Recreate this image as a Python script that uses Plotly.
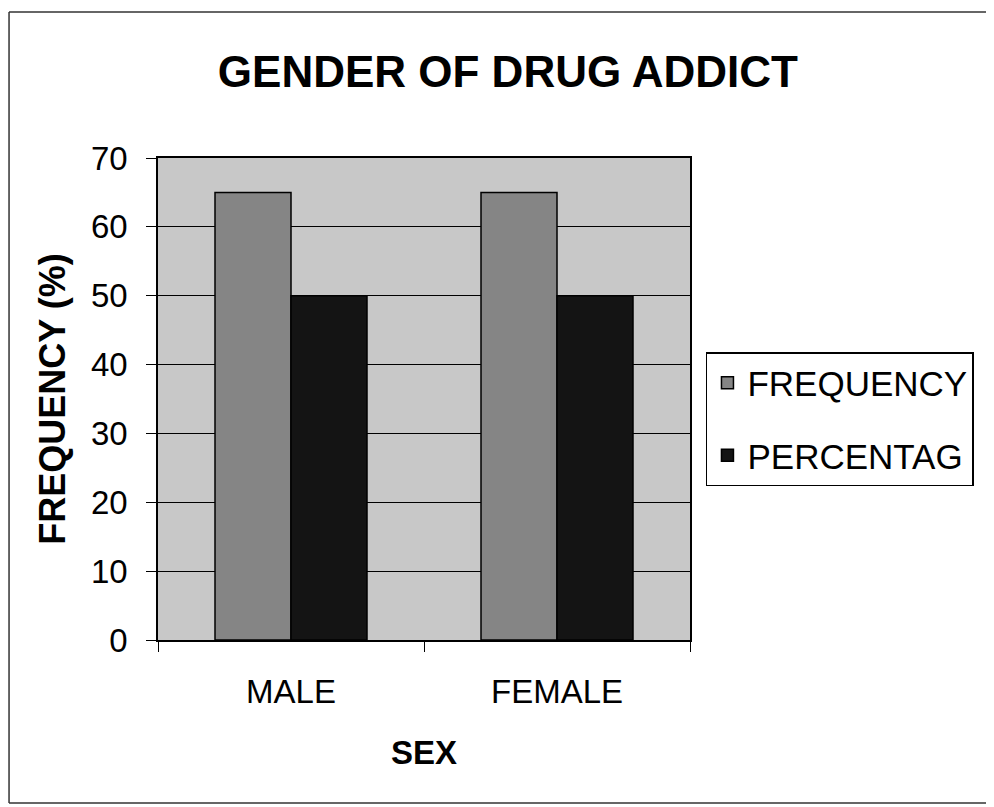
import plotly.graph_objects as go

# данные с графика
categories = ['MALE', 'FEMALE']
frequency = [65, 65]
percentage = [50, 50]
y_ticks = [0, 10, 20, 30, 40, 50, 60, 70]

fig = go.Figure()
fig.add_trace(go.Bar(x=categories, y=frequency, name='FREQUENCY', legendgroup='a',
                     marker_color='#858585', marker_line_color='black', marker_line_width=1.5))
fig.add_trace(go.Bar(x=categories, y=percentage, name='PERCENTAG', legendgroup='b',
                     marker_color='#141414', marker_line_color='black', marker_line_width=1.5))

# у страницы есть отступ 8px, поэтому фигура чуть меньше окна
fig.update_layout(
    width=986, height=799,
    margin=dict(l=150, r=304, t=150, b=167),
    paper_bgcolor='white',
    plot_bgcolor='#c8c8c8',
    font=dict(family='Liberation Sans, Arial', color='black', size=33),
    title=dict(text='<b>GENDER OF DRUG ADDICT</b>', x=0.507, xanchor='center',
               y=0.92, yanchor='middle', font=dict(size=44)),
    bargap=0.4286, bargroupgap=0,
    showlegend=True,
    legend=dict(x=1.03, y=0.5975, xanchor='left', yanchor='top',
                bordercolor='black', borderwidth=1.5, bgcolor='white',
                font=dict(size=35), traceorder='grouped', tracegroupgap=24),
)
fig.update_xaxes(
    title=dict(text='<b>SEX</b>', standoff=32, font=dict(size=33)),
    showline=True, linecolor='black', linewidth=1.5, mirror=True,
    ticks='outside', tickson='boundaries', ticklen=10, tickcolor='black',
    ticklabelstandoff=22,
)
fig.update_yaxes(
    title=dict(text='<b>FREQUENCY (%)</b>', standoff=14, font=dict(size=36)),
    range=[0, 70], tickvals=y_ticks,
    showgrid=True, gridcolor='black', gridwidth=1,
    showline=True, linecolor='black', linewidth=1.5, mirror=True,
    ticks='outside', ticklen=10, tickcolor='black',
    ticklabelstandoff=12,
    zeroline=False,
)
# рамка скана
for x0, y0, x1, y1 in [(-0.28, 1.303, 1.6, 1.303), (-0.28, -0.338, -0.28, 1.303),
                       (-0.28, -0.338, 1.6, -0.338)]:
    fig.add_shape(type='line', xref='paper', yref='paper', x0=x0, y0=y0, x1=x1, y1=y1,
                  line=dict(color='#333333', width=1.5))

fig.write_html("out.html")
